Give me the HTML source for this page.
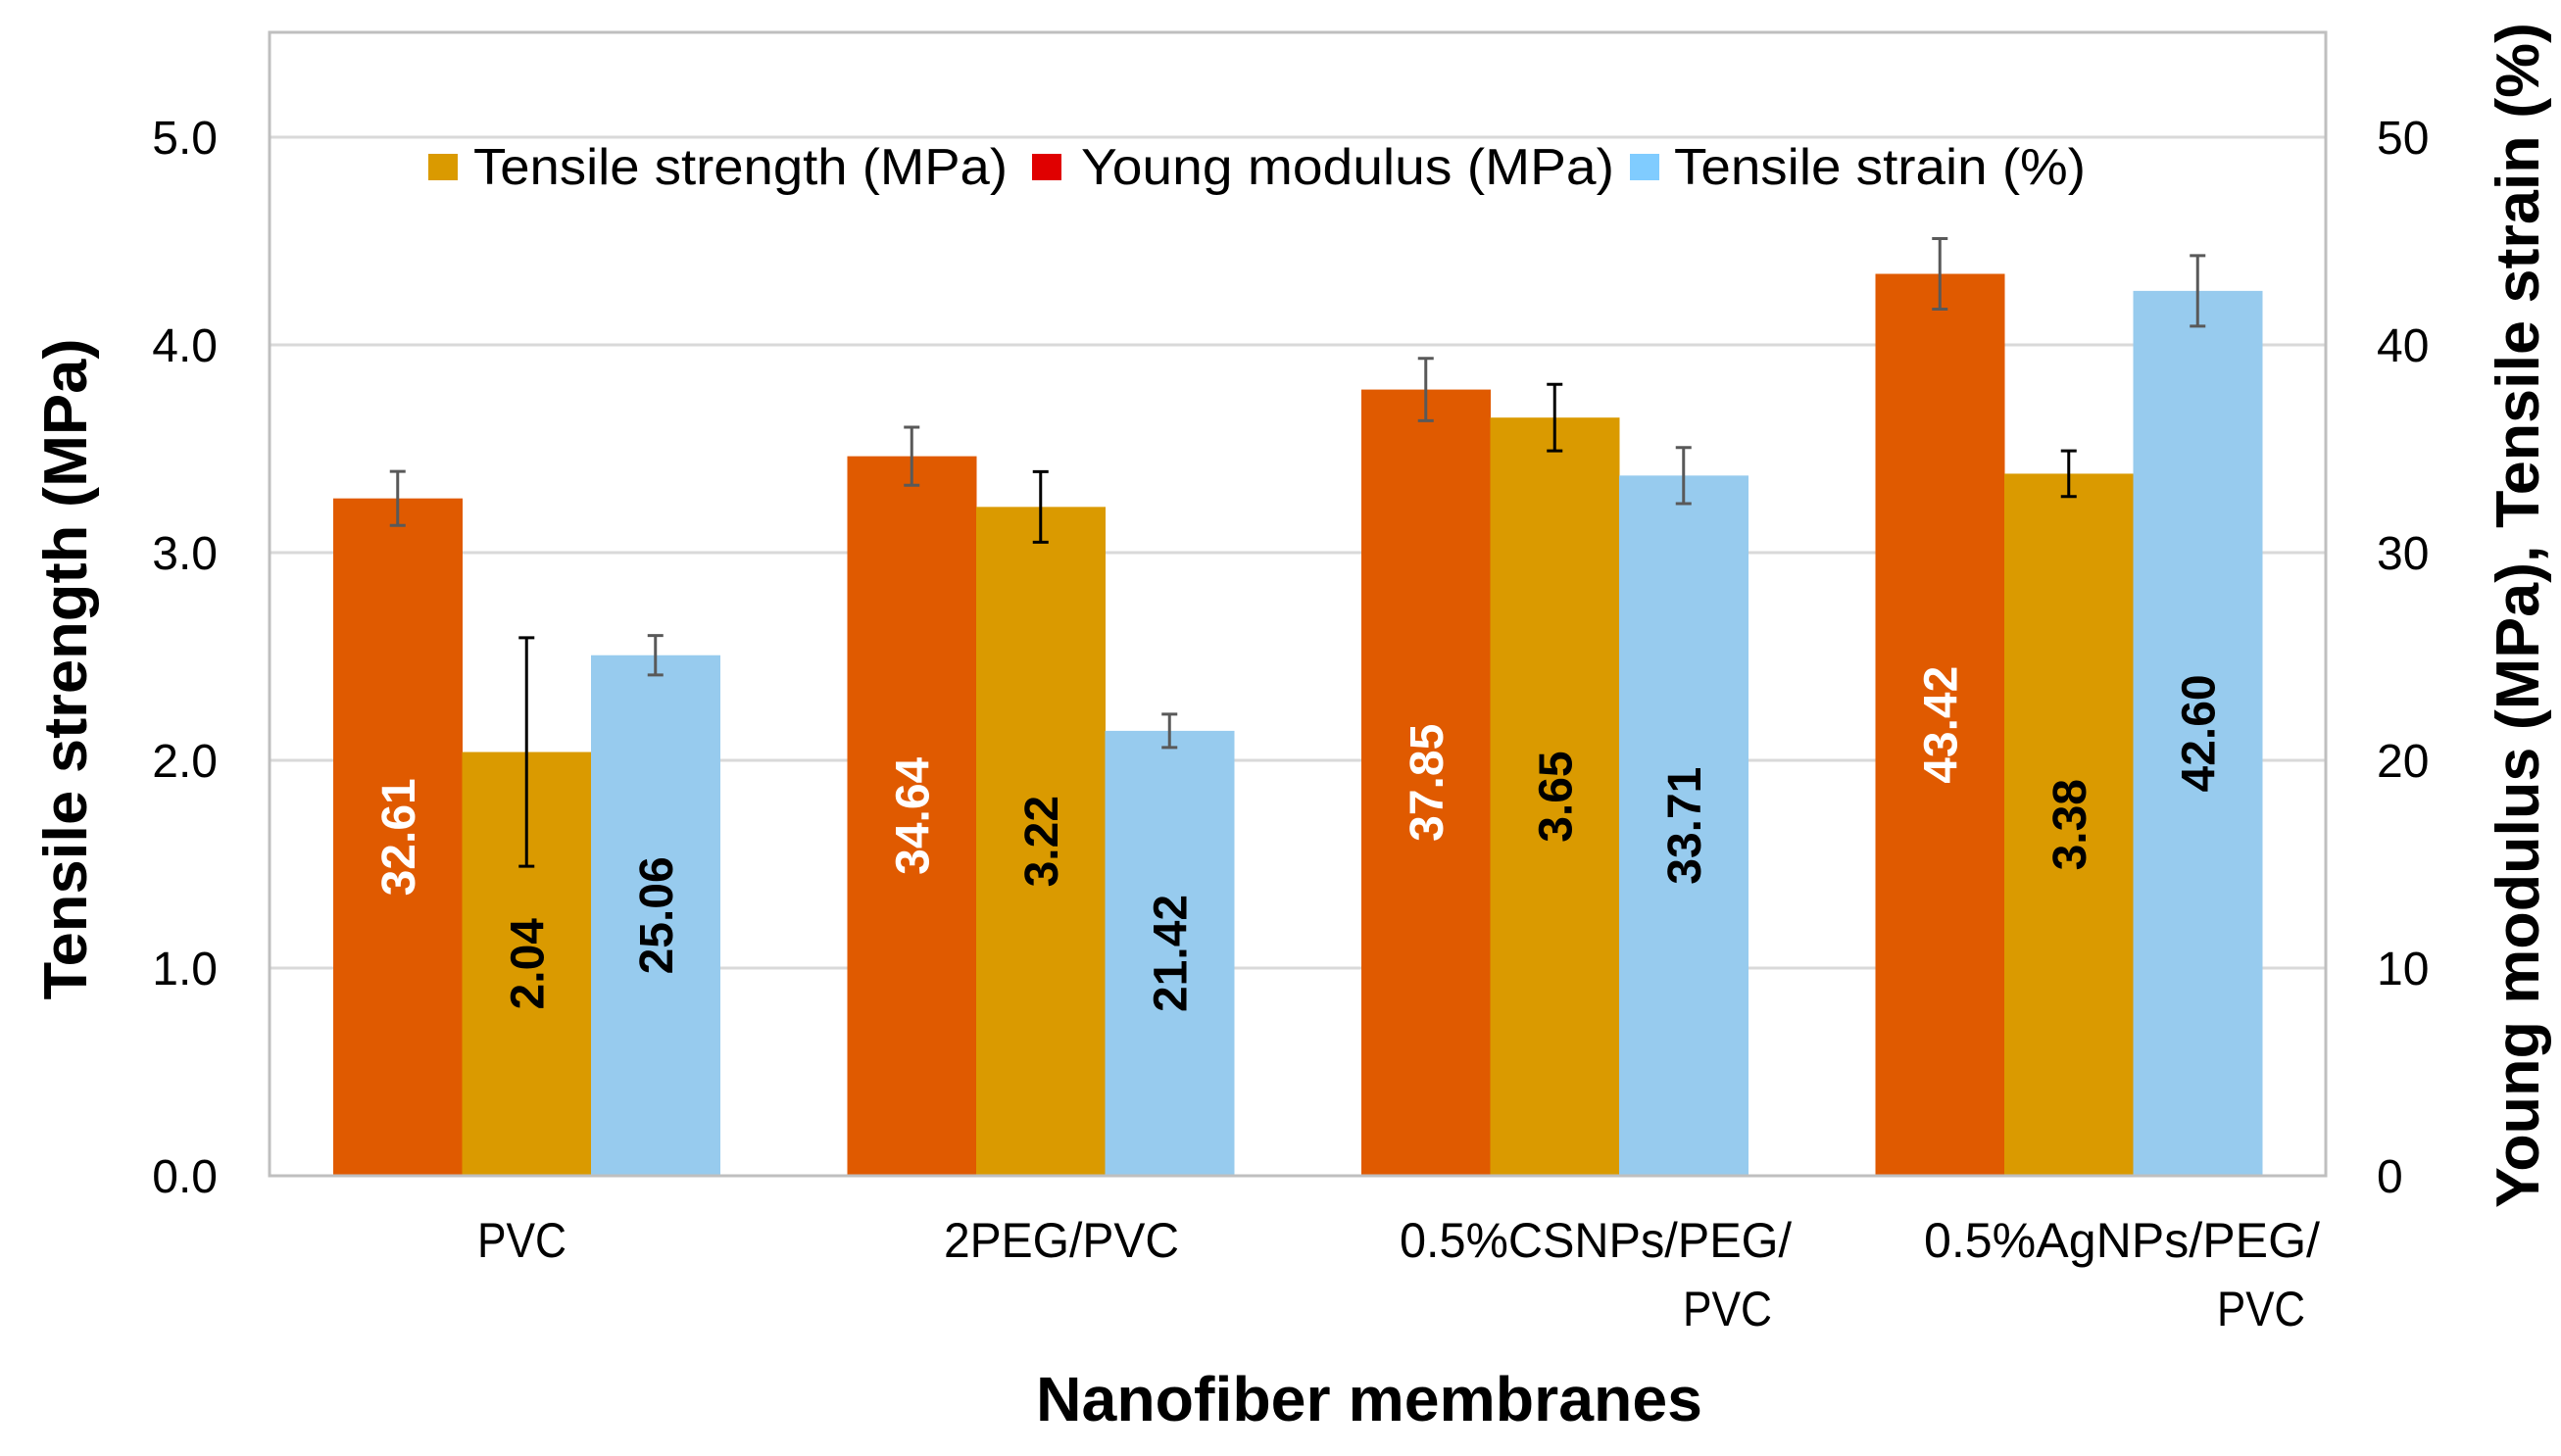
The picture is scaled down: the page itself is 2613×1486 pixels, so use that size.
<!DOCTYPE html>
<html><head><meta charset="utf-8">
<style>html,body{margin:0;padding:0;background:#fff}svg{display:block}text{font-family:"Liberation Sans",sans-serif}</style>
</head><body>
<svg id="chart" width="2613" height="1486" viewBox="0 0 2613 1486" xmlns="http://www.w3.org/2000/svg">
<rect x="0" y="0" width="2613" height="1486" fill="#fff"/>
<g id="grid"></g>
<g id="bars"></g>
<rect x="275" y="33" width="2098" height="1167" fill="none" stroke="#bfbfbf" stroke-width="3"/>
<g id="ticks"></g>
<g>
<rect x="437" y="157" width="30" height="27" fill="#DA9A00"/>
<text x="483" y="188" font-size="52" textLength="545" lengthAdjust="spacingAndGlyphs">Tensile strength (MPa)</text>
<rect x="1053" y="157" width="30" height="27" fill="#E00000"/>
<text x="1103" y="188" font-size="52" textLength="544" lengthAdjust="spacingAndGlyphs">Young modulus (MPa)</text>
<rect x="1663" y="157" width="30" height="27" fill="#80CCFF"/>
<text x="1708" y="188" font-size="52" textLength="420" lengthAdjust="spacingAndGlyphs">Tensile strain (%)</text>
</g>
<g>
<text x="487" y="1283" font-size="50" textLength="91" lengthAdjust="spacingAndGlyphs">PVC</text>
<text x="963" y="1283" font-size="50" textLength="240" lengthAdjust="spacingAndGlyphs">2PEG/PVC</text>
<text x="1428" y="1283" font-size="50" textLength="400" lengthAdjust="spacingAndGlyphs">0.5%CSNPs/PEG/</text>
<text x="1717" y="1353" font-size="50" textLength="91" lengthAdjust="spacingAndGlyphs">PVC</text>
<text x="1963" y="1283" font-size="50" textLength="404" lengthAdjust="spacingAndGlyphs">0.5%AgNPs/PEG/</text>
<text x="2262" y="1353" font-size="50" textLength="90" lengthAdjust="spacingAndGlyphs">PVC</text>
</g>
<text x="1397" y="1450" font-size="64" font-weight="bold" text-anchor="middle" textLength="680" lengthAdjust="spacingAndGlyphs">Nanofiber membranes</text>
<text transform="translate(88,683) rotate(-90)" font-size="62" font-weight="bold" text-anchor="middle" textLength="675" lengthAdjust="spacingAndGlyphs">Tensile strength (MPa)</text>
<text transform="translate(2590,628) rotate(-90)" font-size="62" font-weight="bold" text-anchor="middle" textLength="1210" lengthAdjust="spacingAndGlyphs">Young modulus (MPa), Tensile strain  (%)</text>
</svg>
<script>
const categories = ["PVC", "2PEG/PVC", "0.5%CSNPs/PEG/PVC", "0.5%AgNPs/PEG/PVC"];
const youngModulus = [32.61, 34.64, 37.85, 43.42];
const youngErr = [1.3, 1.4, 1.5, 1.7];
const tensileStrength = [2.04, 3.22, 3.65, 3.38];
const strengthErr = [0.55, 0.17, 0.16, 0.11];
const tensileStrain = [25.06, 21.42, 33.71, 42.60];
const strainErr = [0.95, 0.8, 1.35, 1.7];
const leftTicks = ["0.0", "1.0", "2.0", "3.0", "4.0", "5.0"];
const rightTicks = ["0", "10", "20", "30", "40", "50"];

const NS = "http://www.w3.org/2000/svg";
const X0 = 275, X1 = 2373, Y0 = 1200, UNIT = 212;
function yL(v){ return Y0 - v * UNIT; }
function yR(v){ return Y0 - v / 10 * UNIT; }
const groupW = (X1 - X0) / categories.length;
const barW = 131.5;
function xBar(i, k){ return X0 + groupW * i + (groupW - 3 * barW) / 2 + k * barW; }
function mk(tag, attrs, parent){ const e = document.createElementNS(NS, tag); for (const k in attrs) e.setAttribute(k, attrs[k]); parent.appendChild(e); return e; }

const grid = document.getElementById('grid');
const ticks = document.getElementById('ticks');
leftTicks.forEach((t, i) => {
  const v = parseFloat(t);
  if (v > 0) {
    const l = mk('line', {x1: X0, x2: X1, y1: yL(v), y2: yL(v), stroke: '#d9d9d9', 'stroke-width': 3}, grid);
    
    
  }
  const tx = mk('text', {x: 222, y: yL(v) + 17, 'font-size': 48, 'text-anchor': 'end'}, ticks);
  tx.textContent = t;
  
  
});
rightTicks.forEach((t) => {
  const v = parseFloat(t);
  const tx = mk('text', {x: 2425, y: yR(v) + 17, 'font-size': 48}, ticks);
  tx.textContent = t;
  
  
});

const bars = document.getElementById('bars');
const series = [
  {vals: youngModulus, err: youngErr, y: yR, fill: '#E05A00', lbl: '#fff', errC: '#595959', name: 'young-modulus'},
  {vals: tensileStrength, err: strengthErr, y: yL, fill: '#DA9A00', lbl: '#000', errC: '#000', name: 'tensile-strength'},
  {vals: tensileStrain, err: strainErr, y: yR, fill: '#97CBEE', lbl: '#000', errC: '#595959', name: 'tensile-strain'}
];
categories.forEach((c, i) => {
  series.forEach((s, k) => {
    const v = s.vals[i];
    const x = xBar(i, k), top = s.y(v);
    const r = mk('rect', {x: x, y: top, width: barW + 0.5, height: Y0 - top, fill: s.fill}, bars);
    
    
    const cx = x + barW / 2;
    const e1 = s.y(v + s.err[i]), e2 = s.y(v - s.err[i]);
    const eg = mk('g', {stroke: s.errC, 'stroke-width': 3}, bars);
    
    
    mk('line', {x1: cx, x2: cx, y1: e1, y2: e2}, eg);
    mk('line', {x1: cx - 8, x2: cx + 8, y1: e1, y2: e1}, eg);
    mk('line', {x1: cx - 8, x2: cx + 8, y1: e2, y2: e2}, eg);
    const my = (top + Y0) / 2;
    const t = mk('text', {transform: 'translate(' + (cx + 17) + ',' + my + ') rotate(-90)', 'font-size': 48, 'font-weight': 'bold', 'text-anchor': 'middle', fill: s.lbl}, bars);
    t.textContent = v.toFixed(2);
    
    
  });
});
</script>
</body></html>
